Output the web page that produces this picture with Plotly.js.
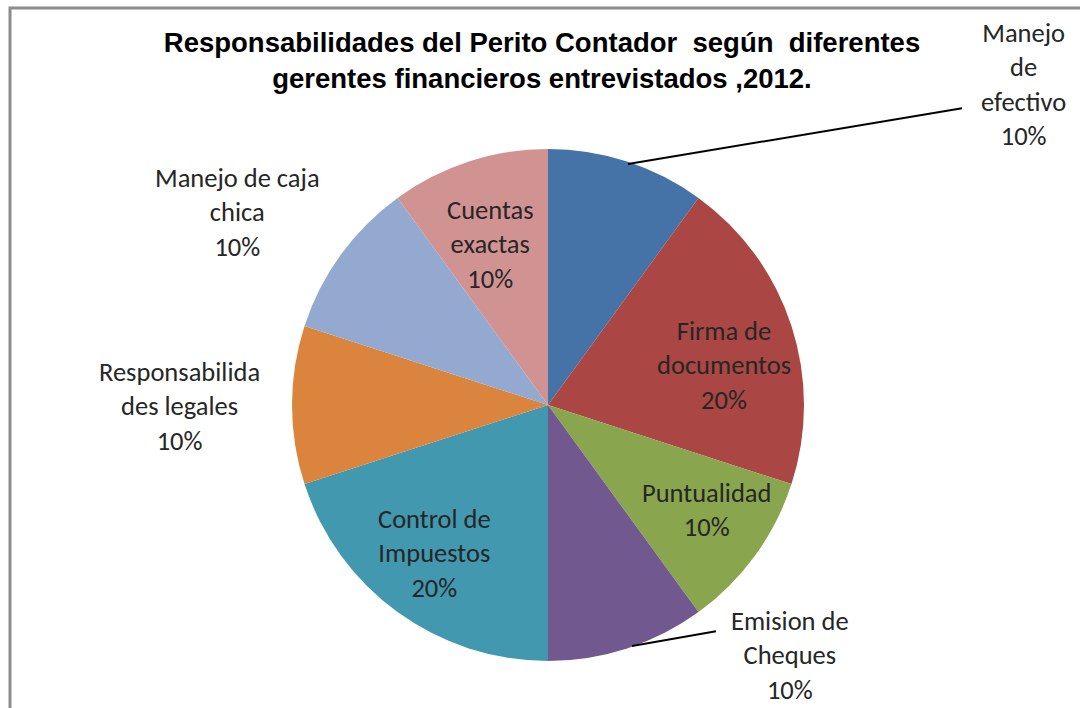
<!DOCTYPE html>
<html>
<head>
<meta charset="utf-8">
<script src="https://cdn.plot.ly/plotly-3.0.1.min.js"></script>
<style>html,body{margin:0;padding:0;background:#fff;}#chart{width:1080px;height:708px;}</style>
</head>
<body>
<div id="chart"></div>
<script>
// ---- data ----
const categories = ["Manejo de efectivo", "Firma de documentos", "Puntualidad", "Emision de Cheques",
  "Control de Impuestos", "Responsabilidades legales", "Manejo de caja chica", "Cuentas exactas"];
const labelText = ["Manejo<br>de<br>efectivo", "Firma de<br>documentos", "Puntualidad", "Emision de<br>Cheques",
  "Control de<br>Impuestos", "Responsabilida<br>des legales", "Manejo de caja<br>chica", "Cuentas<br>exactas"];
const values = [10, 20, 10, 10, 20, 10, 10, 10];
const colors = ["#4572A7", "#AA4643", "#89A54E", "#71588F", "#4198AF", "#DB843D", "#93A9CF", "#D19392"];
const titleText = "Responsabilidades del Perito Contador\u00A0 según\u00A0 diferentes<br>gerentes financieros entrevistados ,2012.";

// ---- layout helpers (pixel -> paper) ----
const W = 1080, H = 708;
const px = x => x / W;
const py = y => 1 - y / H;

const cx = 548, cy = 405, R = 256;

// label block centres (pixels)
const labelPos = [[1023, 84], [724, 365], [707, 510], [790, 655], [434, 553], [179, 407], [237, 212], [490, 244]];

const total = values.reduce((a, b) => a + b, 0);
const annotations = categories.map((c, i) => ({
  x: px(labelPos[i][0]), y: py(labelPos[i][1]), xref: 'paper', yref: 'paper',
  xanchor: 'center', yanchor: 'middle', showarrow: false, align: 'center',
  text: labelText[i] + '<br>' + Math.round(values[i] / total * 100) + '%',
  font: {family: 'Carlito, Lato, sans-serif', size: 26.5, color: '#262626'}
}));

// leader lines
const leaders = [
  {tip: [628, 164], from: [964, 108]},
  {tip: [632, 646], from: [718, 631]}
];
leaders.forEach(l => annotations.push({
  x: px(l.tip[0]), y: py(l.tip[1]), xref: 'paper', yref: 'paper',
  ax: l.from[0] - l.tip[0], ay: l.from[1] - l.tip[1],
  text: ' ', showarrow: true, arrowhead: 0, arrowwidth: 2, arrowcolor: '#000',
  font: {size: 2}
}));

const trace = {
  type: 'pie',
  labels: categories,
  values: values,
  sort: false,
  direction: 'clockwise',
  rotation: 0,
  textinfo: 'none',
  hoverinfo: 'label+percent',
  marker: {colors: colors, line: {width: 0}},
  domain: {x: [px(cx - R), px(cx + R)], y: [py(cy + R), py(cy - R)]},
  showlegend: false
};

const layout = {
  width: W, height: H,
  margin: {l: 0, r: 0, t: 0, b: 0},
  paper_bgcolor: '#fff',
  showlegend: false,
  title: {
    text: titleText,
    x: 542 / W, xanchor: 'center', xref: 'paper',
    y: py(52), yanchor: 'middle', yref: 'paper',
    font: {family: 'Liberation Sans, Arial, sans-serif', size: 27.5, color: '#000', weight: 'bold'}
  },
  annotations: annotations,
  shapes: [{
    type: 'rect', xref: 'paper', yref: 'paper',
    x0: px(10), x1: px(1095), y0: py(725), y1: py(8),
    line: {color: '#8c8c8c', width: 3}, fillcolor: 'rgba(0,0,0,0)', layer: 'below'
  }]
};

Plotly.newPlot('chart', [trace], layout, {displayModeBar: false, staticPlot: true});
</script>
</body>
</html>
